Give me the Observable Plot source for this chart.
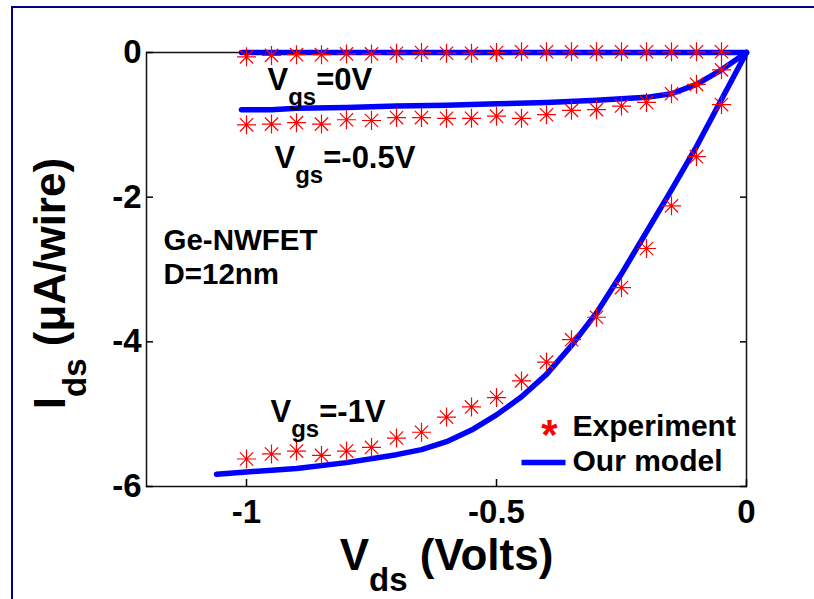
<!DOCTYPE html>
<html><head><meta charset="utf-8">
<script src="https://cdn.jsdelivr.net/npm/d3@7"></script>
<script src="https://cdn.jsdelivr.net/npm/@observablehq/plot@0.6"></script>
<style>
html,body{margin:0;padding:0;background:#fff;overflow:hidden;}
#wrap{position:relative;width:814px;height:599px;}
#wrap svg{position:absolute;left:0;top:0;}
#border{position:absolute;left:11px;top:6px;width:1000px;height:1000px;border:2px solid #00008b;pointer-events:none;}
</style></head><body>
<div id="wrap"><div id="border"></div></div>
<script>
// ---- data ----
const vdsExp = [-1, -0.95, -0.9, -0.85, -0.8, -0.75, -0.7, -0.65, -0.6, -0.55, -0.5, -0.45, -0.4, -0.35, -0.3, -0.25, -0.2, -0.15, -0.1, -0.05];
const idsExpVgs0 = [-0.06, -0.04, -0.03, -0.03, -0.02, -0.02, -0.01, 0, -0.01, -0.01, 0, 0.01, 0.01, 0.01, 0.01, 0.01, 0.01, 0.01, 0.01, 0.01];
const idsExpVgsM05 = [-1.00, -0.99, -0.97, -0.99, -0.93, -0.94, -0.90, -0.90, -0.91, -0.91, -0.88, -0.91, -0.86, -0.80, -0.79, -0.74, -0.69, -0.57, -0.44, -0.24];
const idsExpVgsM1 = [-5.62, -5.55, -5.51, -5.57, -5.51, -5.46, -5.33, -5.25, -5.04, -4.90, -4.77, -4.54, -4.28, -3.97, -3.66, -3.25, -2.71, -2.12, -1.44, -0.72];

const vdsModel0 = [-1.01, -0.5, 0];
const idsModel0 = [0, 0, 0];
const vdsModelM05 = [-1.01, -0.95, -0.9, -0.8, -0.7, -0.6, -0.5, -0.4, -0.3, -0.25, -0.2, -0.15, -0.1, -0.05, 0];
const idsModelM05 = [-0.79, -0.79, -0.77, -0.76, -0.74, -0.73, -0.71, -0.69, -0.66, -0.64, -0.62, -0.57, -0.44, -0.24, 0];
const vdsModelM1 = [-1.06, -1.0, -0.9, -0.8, -0.7, -0.65, -0.6, -0.55, -0.5, -0.45, -0.4, -0.35, -0.3, -0.25, -0.2, -0.15, -0.1, -0.05, 0];
const idsModelM1 = [-5.83, -5.80, -5.75, -5.67, -5.56, -5.49, -5.38, -5.22, -5.01, -4.76, -4.45, -4.05, -3.60, -3.06, -2.48, -1.90, -1.30, -0.65, 0];

const xTicks = [-1, -0.5, 0];
const yTicks = [0, -2, -4, -6];

const annotations = ["V_{gs}=0V", "V_{gs}=-0.5V", "Ge-NWFET\nD=12nm", "V_{gs}=-1V"];
const legendLabels = ["Experiment", "Our model"];
const xLabel = "V_{ds} (Volts)";
const yLabel = "I_{ds} (\u03bcA/wire)";

// ---- tables ----
const expData = [idsExpVgs0, idsExpVgsM05, idsExpVgsM1].flatMap((ys, s) => ys.map((y, i) => ({x: vdsExp[i], y, s})));
const modelData = [[vdsModel0, idsModel0], [vdsModelM05, idsModelM05], [vdsModelM1, idsModelM1]]
  .flatMap(([xs, ys], s) => xs.map((x, i) => ({x, y: ys[i], s})));

// ---- symbols ----
const matlabStar = {
  draw(ctx, size) {
    const r = Math.sqrt(size / Math.PI), d = r * 0.7;
    ctx.moveTo(-r, 0); ctx.lineTo(r, 0);
    ctx.moveTo(0, -r); ctx.lineTo(0, r);
    ctx.moveTo(-d, -d); ctx.lineTo(d, d);
    ctx.moveTo(-d, d); ctx.lineTo(d, -d);
  }
};
const legendLine = {
  draw(ctx, size) { ctx.moveTo(-22, 0); ctx.lineTo(22, 0); }
};

const font = "'Liberation Sans', Arial, Helvetica, sans-serif";
const fmt = d => String(d);

const svg = Plot.plot({
  width: 814, height: 599,
  marginLeft: 146, marginRight: 68, marginTop: 52, marginBottom: 113,
  style: {fontFamily: font, fontSize: "33px", fontWeight: "bold", color: "#000", background: "transparent", overflow: "visible"},
  x: {domain: [-1.2, 0], ticks: xTicks, tickFormat: fmt},
  y: {domain: [-6, 0], ticks: yTicks, tickFormat: fmt},
  marks: [
    Plot.frame({stroke: "#111", strokeWidth: 1.5}),
    Plot.axisX({anchor: "bottom", ticks: xTicks, tickSize: 7, dy: -7, tickFormat: () => "", label: null, strokeWidth: 1.5}),
    Plot.axisX({anchor: "top", ticks: xTicks, tickSize: 7, dy: 7, tickFormat: () => "", label: null, strokeWidth: 1.5}),
    Plot.axisY({anchor: "left", ticks: yTicks, tickSize: 7, dx: 7, tickFormat: () => "", label: null, strokeWidth: 1.5}),
    Plot.axisY({anchor: "right", ticks: yTicks, tickSize: 7, dx: -7, tickFormat: () => "", label: null, strokeWidth: 1.5}),
    Plot.axisX({anchor: "bottom", ticks: xTicks, tickSize: 0, tickPadding: 13, tickFormat: fmt, label: null}),
    Plot.axisY({anchor: "left", ticks: yTicks, tickSize: 0, tickPadding: 5, tickFormat: fmt, label: null}),
    Plot.line(modelData, {x: "x", y: "y", z: "s", stroke: "#0000ff", strokeWidth: 5.5, strokeLinejoin: "round"}),
    Plot.dot(expData, {x: "x", y: "y", symbol: matlabStar, r: 9.5, stroke: "#ff0000", fill: "none", strokeWidth: 1.2}),
    // annotations
    Plot.text([annotations[0]], {text: d => d, frameAnchor: "top-left", dx: 121, dy: 37, textAnchor: "start", lineAnchor: "bottom", fontSize: 31}),
    Plot.text([annotations[1]], {text: d => d, frameAnchor: "top-left", dx: 128, dy: 115, textAnchor: "start", lineAnchor: "bottom", fontSize: 31}),
    Plot.text([annotations[2]], {text: d => d, frameAnchor: "top-left", dx: 17, dy: 231, textAnchor: "start", lineAnchor: "bottom", fontSize: 29.5, lineHeight: 1.12}),
    Plot.text([annotations[3]], {text: d => d, frameAnchor: "top-left", dx: 124, dy: 369, textAnchor: "start", lineAnchor: "bottom", fontSize: 31}),
    // legend
    Plot.text(["*"], {text: d => d, frameAnchor: "bottom-right", dx: -197, dy: -38, textAnchor: "middle", lineAnchor: "bottom", fontSize: 42, fill: "#ff0000"}),
    Plot.text([legendLabels[0]], {text: d => d, frameAnchor: "bottom-right", dx: -174, dy: -51, textAnchor: "start", lineAnchor: "bottom", fontSize: 30}),
    Plot.dot([legendLabels[1]], {frameAnchor: "bottom-right", dx: -203, dy: -24, symbol: legendLine, r: 5, stroke: "#0000ff", fill: "none", strokeWidth: 5.5}),
    Plot.text([legendLabels[1]], {text: d => d, frameAnchor: "bottom-right", dx: -174, dy: -16, textAnchor: "start", lineAnchor: "bottom", fontSize: 30}),
    // axis titles
    Plot.text([xLabel], {text: d => d, frameAnchor: "bottom", dx: 0, dy: 83, textAnchor: "middle", lineAnchor: "bottom", fontSize: 44}),
    Plot.text([yLabel], {text: d => d, frameAnchor: "left", dx: -82, dy: 14, rotate: -90, textAnchor: "middle", lineAnchor: "bottom", fontSize: 44})
  ]
});
document.getElementById("wrap").prepend(svg);

// subscripts: "A_{sub}rest"
svg.querySelectorAll("text").forEach(t => {
  if (t.children.length) return;
  const s = t.textContent;
  const m = s.match(/^(.*?)_\{(.*?)\}(.*)$/);
  if (!m) return;
  const fs = parseFloat(getComputedStyle(t).fontSize);
  const sub = Math.round(fs * 0.76), shift = Math.round(fs * 0.47);
  t.textContent = "";
  const ns = "http://www.w3.org/2000/svg";
  const a = document.createElementNS(ns, "tspan"); a.textContent = m[1]; t.appendChild(a);
  const b = document.createElementNS(ns, "tspan"); b.textContent = m[2]; b.setAttribute("font-size", sub); b.setAttribute("dy", shift); t.appendChild(b);
  const c = document.createElementNS(ns, "tspan"); c.textContent = m[3]; c.setAttribute("dy", -shift); t.appendChild(c);
});
</script>
</body></html>
